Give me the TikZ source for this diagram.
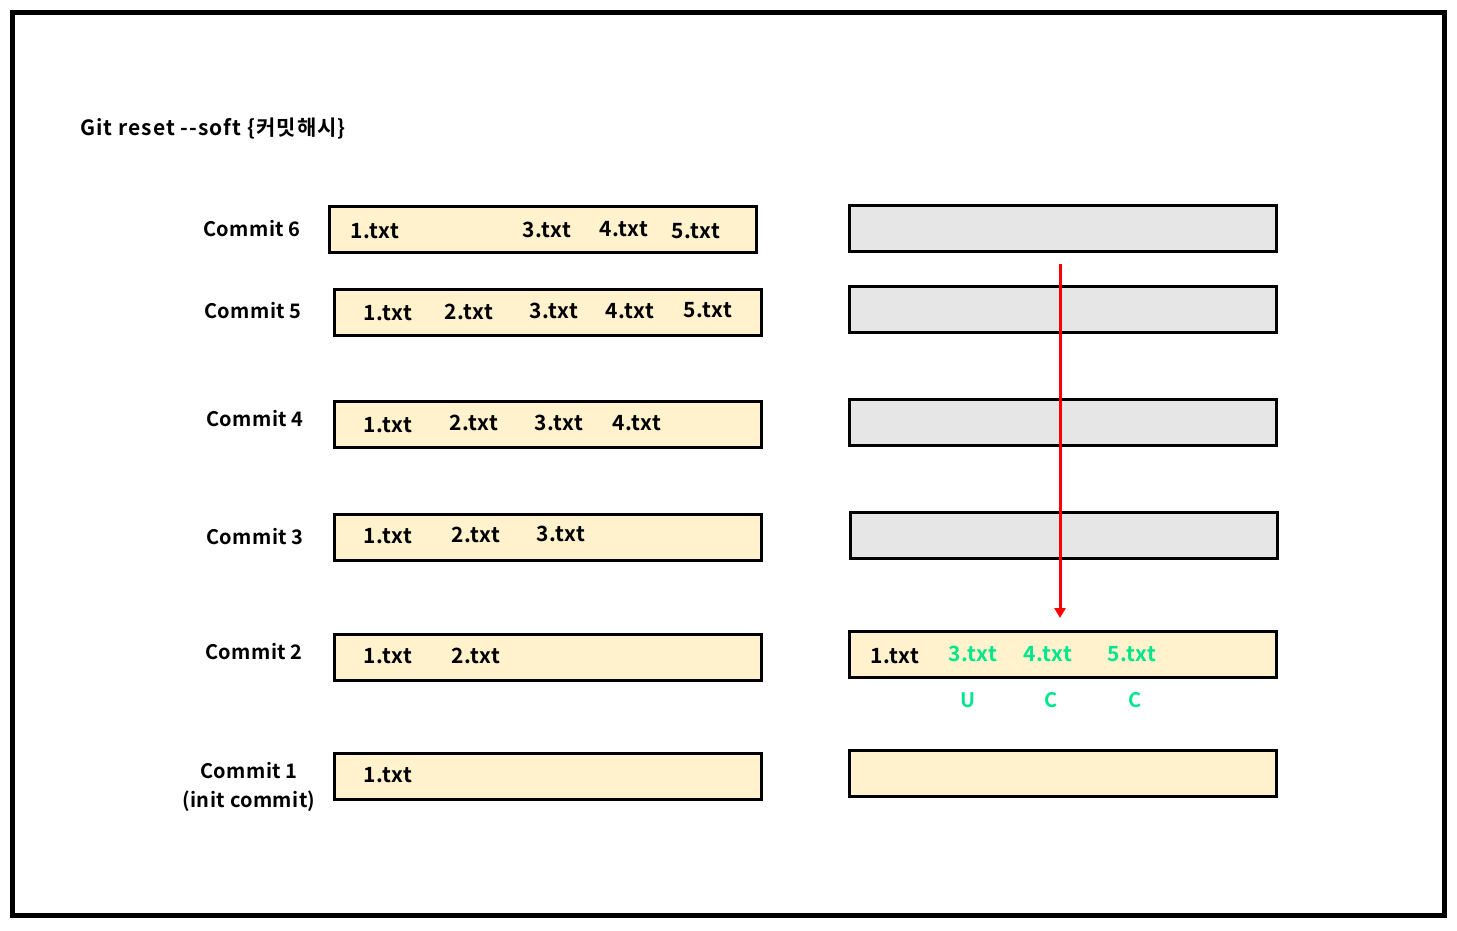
\documentclass[tikz,border=0pt]{standalone}
\usepackage{fontspec}
\setmainfont{Noto Sans CJK KR}[BoldFont={Noto Sans CJK KR Bold}]
\usetikzlibrary{arrows.meta}
\definecolor{cream}{HTML}{FFF2CC}
\definecolor{lgray}{HTML}{E6E6E6}
\definecolor{grn}{RGB}{0,230,140}
\tikzset{
  box/.style={draw=black, line width=3pt, minimum width=427pt, minimum height=46pt, inner sep=0pt},
  filebox/.style={box, fill=cream},
  graybox/.style={box, fill=lgray},
  fname/.style={anchor=west, inner sep=0pt, font=\fontsize{21}{24}\selectfont\bfseries\addfontfeature{LetterSpace=3}},
  gname/.style={fname, text=grn},
  clabel/.style={inner sep=0pt, align=center, font=\fontsize{20}{29}\selectfont\bfseries\addfontfeature{LetterSpace=2}},
  title/.style={anchor=west, inner sep=0pt, font=\fontsize{21}{24}\selectfont\bfseries\addfontfeature{LetterSpace=5}},
  flag/.style={inner sep=0pt, text=grn, font=\fontsize{20}{24}\selectfont\bfseries},
}
\begin{document}
\begin{tikzpicture}[x=1pt,y=-1pt]
\useasboundingbox (0,0) rectangle (1457,931);
\fill[white] (0,0) rectangle (1457,931);
\draw[line width=5pt] (12.5,12.5) rectangle (1444.5,915.5);

\node[title] (ttl) at (80,128) {Git reset {-}{-}soft \{커밋해시\}};

% labels
\node[clabel] (c6) at (252,229) {Commit 6};
\node[clabel] (c5) at (253,311) {Commit 5};
\node[clabel] (c4) at (255,419) {Commit 4};
\node[clabel] (c3) at (255,537) {Commit 3};
\node[clabel] (c2) at (254,652) {Commit 2};
\node[clabel] (c1) at (249,787) {Commit 1\\(init commit)};

% left boxes
\node[filebox] (l6) at (543,229.5) {};
\node[filebox] (l5) at (547.5,312.5) {};
\node[filebox] (l4) at (547.5,424.5) {};
\node[filebox] (l3) at (547.5,537.5) {};
\node[filebox] (l2) at (547.5,657.5) {};
\node[filebox] (l1) at (547.5,776.5) {};

% right boxes
\node[graybox] (r6) at (1062.5,228.5) {};
\node[graybox] (r5) at (1062.5,309.5) {};
\node[graybox] (r4) at (1062.5,422.5) {};
\node[graybox] (r3) at (1063.5,535.5) {};
\node[filebox] (r2) at (1062.5,654.5) {};
\node[filebox] (r1) at (1062.5,773.5) {};

% files row 6
\node[fname] (f61) at (350,231) {1.txt};
\node[fname] (f63) at (522,230) {3.txt};
\node[fname] (f64) at (599,229) {4.txt};
\node[fname] (f65) at (671,231) {5.txt};
% row 5
\node[fname] (f51) at (363,313) {1.txt};
\node[fname] (f52) at (444,312) {2.txt};
\node[fname] (f53) at (529,311) {3.txt};
\node[fname] (f54) at (605,311) {4.txt};
\node[fname] (f55) at (683,310) {5.txt};
% row 4
\node[fname] (f41) at (363,425) {1.txt};
\node[fname] (f42) at (449,423) {2.txt};
\node[fname] (f43) at (534,423) {3.txt};
\node[fname] (f44) at (612,423) {4.txt};
% row 3
\node[fname] (f31) at (363,536) {1.txt};
\node[fname] (f32) at (451,535) {2.txt};
\node[fname] (f33) at (536,534) {3.txt};
% row 2
\node[fname] (f21) at (363,656) {1.txt};
\node[fname] (f22) at (451,656) {2.txt};
% row 1
\node[fname] (f11) at (363,775) {1.txt};

% right row 2
\node[fname] (g1) at (870,656) {1.txt};
\node[gname] (g3) at (948,654) {3.txt};
\node[gname] (g4) at (1023,654) {4.txt};
\node[gname] (g5) at (1107,654) {5.txt};
\node[flag] (u3) at (968,700) {U};
\node[flag] (u4) at (1051,700) {C};
\node[flag] (u5) at (1135,700) {C};

% arrow
\coordinate (as) at (1060,264);
\coordinate (ae) at (1060,618);
\draw[red, line width=3pt, -{Triangle[length=10pt,width=11pt]}] (as) -- (ae);
\end{tikzpicture}
\end{document}
